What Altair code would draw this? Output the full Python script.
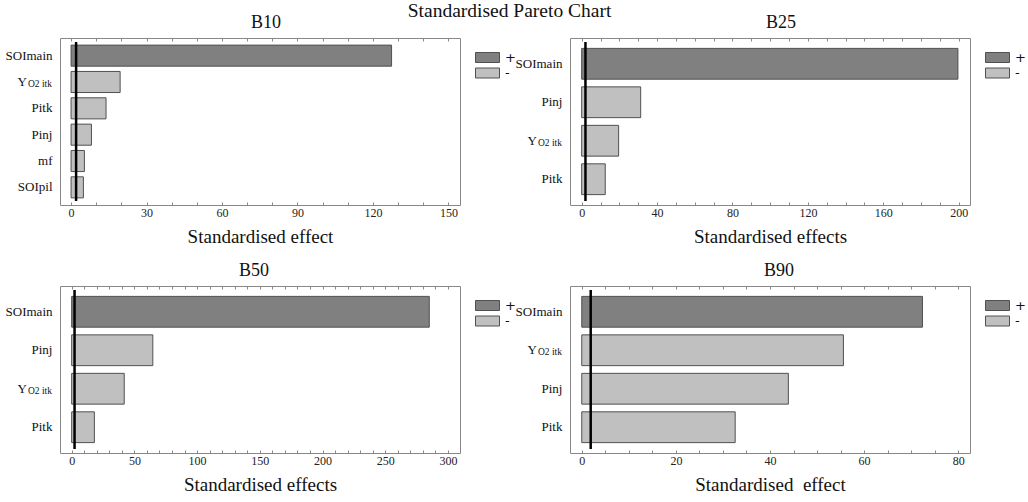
import altair as alt
import pandas as pd

MAIN_TITLE = "Standardised Pareto Chart"
SERIF = "Liberation Serif"
SUB = "Y O2 itk"

panel_titles = ["B10", "B25", "B50", "B90"]
title_dx = [6, 11, -6, 9]

b10_factors = ["SOImain", "Y O2 itk", "Pitk", "Pinj", "mf", "SOIpil"]
b10_effects = [127.4, 19.5, 13.9, 8.1, 5.3, 4.9]
b10_signs = ["+", "-", "-", "-", "-", "-"]

b25_factors = ["SOImain", "Pinj", "Y O2 itk", "Pitk"]
b25_effects = [199.6, 31.3, 19.6, 12.5]
b25_signs = ["+", "-", "-", "-"]

b50_factors = ["SOImain", "Pinj", "Y O2 itk", "Pitk"]
b50_effects = [285.1, 64.7, 41.9, 18.1]
b50_signs = ["+", "-", "-", "-"]

b90_factors = ["SOImain", "Y O2 itk", "Pinj", "Pitk"]
b90_effects = [72.4, 55.6, 43.9, 32.6]
b90_signs = ["+", "-", "-", "-"]

critical = [2.0, 2.0, 2.3, 1.9]
x_domains = [[-4.4, 154.6], [-6.2, 206.0], [-9.3, 309.6], [-2.5, 82.5]]
tick_steps = [10, 10, 10, 5]
label_steps = [30, 40, 50, 20]
x_titles = ["Standardised effect", "Standardised effects",
            "Standardised effects", "Standardised\u00a0 effect"]

# split label for the subscripted factor: main letter + subscript
sub_main = ["Y"]
sub_small = ["O2 itk"]

W, H = 400, 167


def panel(title, tdx, factors, effects, signs, crit, dom, tstep, lstep, xtitle):
    df = pd.DataFrame({"factor": factors, "effect": effects, "sign": signs})
    vals = list(range(0, int(dom[1]) + 1, tstep))
    xscale = alt.Scale(domain=dom, nice=False, zero=False)
    yscale = alt.Scale(paddingInner=0.2, paddingOuter=0.27)
    yaxis = alt.Axis(domain=False, ticks=False, grid=False,
                     labelFont=SERIF, labelFontSize=13, labelColor="#111",
                     labelFontWeight="normal", labelPadding=8,
                     labelExpr=f"datum.value == '{SUB}' ? '' : datum.value")

    bars = alt.Chart(df).mark_bar(stroke="#505050", strokeWidth=1).encode(
        x=alt.X("effect:Q", scale=xscale, title=xtitle,
                axis=alt.Axis(values=vals,
                              labelExpr=f"datum.value % {lstep} == 0 ? datum.label : ''",
                              domain=False, grid=False,
                              tickSize={"expr": "-3"}, tickColor="#888",
                              labelFont=SERIF, labelFontSize=12, labelColor="#222",
                              labelPadding=5, labelFlush=False,
                              titleFont=SERIF, titleFontSize=19,
                              titleFontWeight="normal", titleColor="#111",
                              titlePadding=9)),
        x2=alt.datum(0),
        y=alt.Y("factor:N", sort=factors, title=None, scale=yscale, axis=yaxis),
        fill=alt.Fill("sign:N",
                      scale=alt.Scale(domain=["+", "-"], range=["#808080", "#c0c0c0"]),
                      legend=alt.Legend(orient="none", legendX=W + 21, legendY=13,
                                        title=None,
                                        symbolType="M-2.4,-1H2.4V1H-2.4Z",
                                        symbolSize=100, symbolStrokeColor="#505050",
                                        symbolStrokeWidth=1, symbolOpacity=1,
                                        labelFont="DejaVu Sans", labelFontSize=13,
                                        labelColor="#111", labelOffset=11,
                                        rowPadding=0.5)),
    )

    rule = alt.Chart(pd.DataFrame({"crit": [crit]})).mark_rule(
        color="black", strokeWidth=2.5).encode(
        x=alt.X("crit:Q", scale=xscale,
                axis=alt.Axis(orient="top", values=vals, labels=False, domain=False,
                              grid=False, title=None,
                              tickSize={"expr": "-3"}, tickColor="#888")),
        y=alt.value(4), y2=alt.value(H - 4),
    )

    lab = pd.DataFrame({"factor": [SUB], "main": sub_main, "small": sub_small})
    big = alt.Chart(lab).mark_text(
        align="right", baseline="middle", font=SERIF, fontSize=13,
        color="#111").encode(
        x=alt.value(-33),
        y=alt.Y("factor:N", sort=factors, title=None, axis=yaxis),
        text="main:N",
    )
    small = alt.Chart(lab).mark_text(
        align="right", baseline="middle", font=SERIF, fontSize=9.5, dy=2,
        color="#111").encode(
        x=alt.value(-8),
        y=alt.Y("factor:N", sort=factors, title=None, axis=yaxis),
        text="small:N",
    )

    return alt.layer(bars, rule, big, small).resolve_axis(x="independent").properties(
        width=W, height=H,
        title=alt.Title(title, font=SERIF, fontSize=18, fontWeight="normal",
                        color="#111", offset=6, dx=tdx),
    )


panels = []
for i, (f, e, s) in enumerate([(b10_factors, b10_effects, b10_signs),
                               (b25_factors, b25_effects, b25_signs),
                               (b50_factors, b50_effects, b50_signs),
                               (b90_factors, b90_effects, b90_signs)]):
    panels.append(panel(panel_titles[i], title_dx[i], f, e, s, critical[i],
                        x_domains[i], tick_steps[i], label_steps[i], x_titles[i]))

chart = alt.ConcatChart(
    concat=panels, columns=2, bounds="flush",
    spacing={"row": 81, "column": 110},
).resolve_scale(fill="independent").resolve_legend(fill="independent").properties(
    title=alt.Title(MAIN_TITLE, font=SERIF, fontSize=19.5, fontWeight="normal",
                    color="#111", anchor="middle", offset=-11, dy=-3, dx=-6),
    padding={"left": 4, "top": 0, "right": 0, "bottom": 0},
    background="white",
).configure_view(stroke="#888", strokeWidth=1).configure_axisY(
    labelFont=SERIF, labelFontSize=13, labelColor="#111", labelFontWeight="normal",
    labelPadding=8,
)

chart.save("out.html", embed_options={"renderer": "svg", "actions": False})
